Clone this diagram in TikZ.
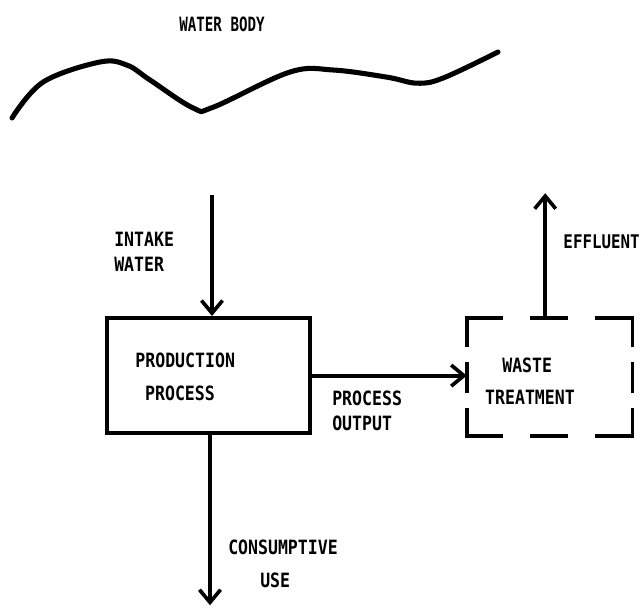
\documentclass[tikz,border=0pt]{standalone}
\usepackage{fontspec}
\newfontfamily\plotfont{DejaVu Sans Mono}[FakeStretch=0.84]
\newfontfamily\titlefont{DejaVu Sans Mono}[FakeStretch=0.72]
\usetikzlibrary{arrows.meta, positioning}
\tikzset{>={Straight Barb[length=9pt,width=15pt,line width=2.6pt]}, % chevron heads
flow/.style={->, line width=2.8pt},
box/.style={draw, line width=2.8pt, minimum width=5.08cm, minimum height=2.88cm},
side/.style={line width=2.8pt, line cap=rect},
lbl/.style={font=\plotfont\bfseries\fontsize{14}{18}\selectfont, inner sep=0pt, align=left},
}

\begin{document}
\begin{tikzpicture}
    \useasboundingbox (0,0) rectangle (16.075,-15.35);
    % water body
    \node[lbl, font=\titlefont\bfseries\fontsize{14}{18}\selectfont] (wbody) at (5.55,-0.6) {WATER BODY};
    \draw[line width=3.6pt, line cap=round] plot[smooth, tension=0.6] coordinates {(0.3,-2.95) (1.08,-2.05) (2.5,-1.55) (3.18,-1.63) (3.75,-2.0) (4.83,-2.7) (5.33,-2.68) (7.25,-1.8) (8.33,-1.75) (9.68,-1.93) (10.43,-2.08) (11.08,-1.95) (12.45,-1.3)};
    % boxes
    \node[box] (prod) at (5.21,-9.39) {};
    \node[minimum width=4.13cm, minimum height=2.93cm] (waste) at (13.74,-9.43) {};
    \draw[side, dash pattern=on 0.85cm off 0.78cm on 0.85cm off 0.78cm on 0.85cm] (waste.north west) -- (waste.north east);
    \draw[side, dash pattern=on 0.85cm off 0.78cm on 0.85cm off 0.78cm on 0.85cm] (waste.south west) -- (waste.south east);
    \draw[side, dash pattern=on 0.68cm off 0.45cm on 0.7cm off 0.45cm on 0.68cm] (waste.north west) -- (waste.south west);
    \draw[side, dash pattern=on 0.68cm off 0.45cm on 0.7cm off 0.45cm on 0.68cm] (waste.north east) -- (waste.south east);
    \node[lbl] (prodtxt) at (4.63,-9.0) {PRODUCTION};
    \node[lbl] (proctxt) at (4.5,-9.83) {PROCESS};
    \node[lbl] (wastetxt) at (13.18,-9.13) {WASTE};
    \node[lbl] (treattxt) at (13.25,-9.93) {TREATMENT};
    % flows
    \coordinate (intake) at (5.3,-4.88);
    \coordinate (efftop) at (13.63,-4.83);
    \coordinate (cons) at (5.25,-15.13);
    \draw[flow] (intake) -- (intake |- prod.north);
    \draw[flow] (prod.east) -- (prod.east -| waste.west);
    \draw[flow] (efftop |- waste.north) -- (efftop);
    \draw[flow] (cons |- prod.south) -- (cons);
    % labels
    \node[lbl, anchor=west] (intaketxt) at (2.85,-6.3) {INTAKE\\WATER};
    \node[lbl, anchor=west] (outtxt) at (8.3,-10.27) {PROCESS\\OUTPUT};
    \node[lbl, anchor=west, font=\plotfont\bfseries\fontsize{13.4}{18}\selectfont] (efftxt) at (14.08,-6.05) {EFFLUENT};
    \node[lbl, anchor=west] (constxt) at (5.7,-13.68) {CONSUMPTIVE};
    \node[lbl, anchor=west] (usetxt) at (6.5,-14.5) {USE};
\end{tikzpicture}
\end{document}
